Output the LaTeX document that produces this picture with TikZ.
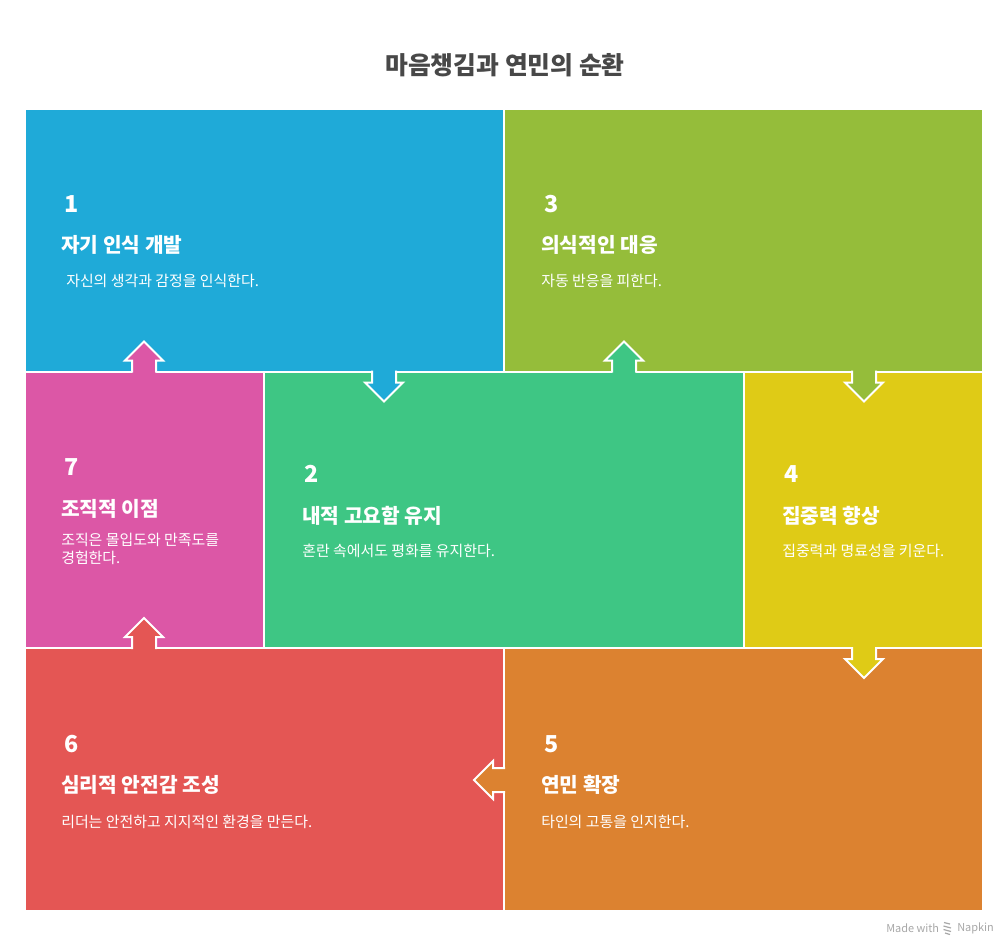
\documentclass[tikz,border=0pt]{standalone}
\usepackage{fontspec}
\setmainfont{Noto Sans CJK KR}
\usetikzlibrary{calc}
\definecolor{cBlue}{HTML}{1FAAD8}
\definecolor{cOlive}{HTML}{95BD3A}
\definecolor{cPink}{HTML}{DC57A6}
\definecolor{cGreen}{HTML}{3EC684}
\definecolor{cYellow}{HTML}{DFCB16}
\definecolor{cRed}{HTML}{E45654}
\definecolor{cOrange}{HTML}{DC8230}
\definecolor{cTitle}{HTML}{484848}
\definecolor{cMark}{HTML}{A8A8A8}
\newcommand\ArrUp[3]{%
  \fill[#3] (#1-12,#2+3) -- (#1-12,#2-11) -- (#1-19,#2-11) -- (#1,#2-30) -- (#1+19,#2-11) -- (#1+12,#2-11) -- (#1+12,#2+3) -- cycle;
  \draw[arrline] (#1-12,#2+1) -- (#1-12,#2-11) -- (#1-19,#2-11) -- (#1,#2-30) -- (#1+19,#2-11) -- (#1+12,#2-11) -- (#1+12,#2+1);}
\newcommand\ArrDown[3]{%
  \fill[#3] (#1-12,#2-3) -- (#1-12,#2+11) -- (#1-19,#2+11) -- (#1,#2+30) -- (#1+19,#2+11) -- (#1+12,#2+11) -- (#1+12,#2-3) -- cycle;
  \draw[arrline] (#1-12,#2-1) -- (#1-12,#2+11) -- (#1-19,#2+11) -- (#1,#2+30) -- (#1+19,#2+11) -- (#1+12,#2+11) -- (#1+12,#2-1);}
\newcommand\ArrLeft[3]{%
  \fill[#3] (#1+3,#2-12) -- (#1-11,#2-12) -- (#1-11,#2-19) -- (#1-30,#2) -- (#1-11,#2+19) -- (#1-11,#2+12) -- (#1+3,#2+12) -- cycle;
  \draw[arrline] (#1+1,#2-12) -- (#1-11,#2-12) -- (#1-11,#2-19) -- (#1-30,#2) -- (#1-11,#2+19) -- (#1-11,#2+12) -- (#1+1,#2+12);}
\begin{document}
\begin{tikzpicture}[x=0.75pt,y=-0.75pt,
  blk/.style={draw=white, line width=1.5pt},
  arrline/.style={draw=white, line width=1.5pt, line join=miter},
  num/.style={anchor=west, inner sep=0pt, text=white, font=\fontsize{17.5}{19}\selectfont\bfseries},
  head/.style={anchor=west, inner sep=0pt, text=white, font=\fontsize{15.2}{17}\selectfont\bfseries},
  desc/.style={anchor=west, inner sep=0pt, text=white, align=left, font=\fontsize{11.2}{13.5}\selectfont},
  wmark/.style={inner sep=0pt, text=cMark, font=\fontsize{8.2}{9}\selectfont}]
\useasboundingbox (0,0) rectangle (1008,947);
\fill[white] (0,0) rectangle (1008,947);
\node[inner sep=0pt, text=cTitle, font=\fontsize{18.6}{20}\selectfont\bfseries] (title) at (505,65) {마음챙김과 연민의 순환};
% blocks
\filldraw[blk, fill=cBlue]   (25,109) rectangle (504,371.5);
\filldraw[blk, fill=cOlive]  (504,109) rectangle (983,371.5);
\filldraw[blk, fill=cPink]   (25,371.5) rectangle (264,648);
\filldraw[blk, fill=cGreen]  (264,371.5) rectangle (744,648);
\filldraw[blk, fill=cYellow] (744,371.5) rectangle (983,648);
\filldraw[blk, fill=cRed]    (25,648) rectangle (504,911);
\filldraw[blk, fill=cOrange] (504,648) rectangle (983,911);
% arrows
\ArrUp{144}{371.5}{cPink}
\ArrDown{384}{371.5}{cBlue}
\ArrUp{624}{371.5}{cGreen}
\ArrDown{864}{371.5}{cOlive}
\ArrDown{864}{648}{cYellow}
\ArrLeft{504}{780}{cOrange}
\ArrUp{144}{648}{cRed}
% texts
\node[num] (n1) at (64,204) {1};
\node[head] (h1) at (61,245) {자기 인식 개발};
\node[desc] (d1) at (66,281) {자신의 생각과 감정을 인식한다.};
\node[num] (n3) at (544,204) {3};
\node[head] (h3) at (541,245) {의식적인 대응};
\node[desc] (d3) at (541,281) {자동 반응을 피한다.};
\node[num] (n7) at (64,467) {7};
\node[head] (h7) at (61,509) {조직적 이점};
\node[desc, anchor=north west] (d7) at (61,533) {조직은 몰입도와 만족도를\\경험한다.};
\node[num] (n2) at (304,474) {2};
\node[head] (h2) at (302,516) {내적 고요함 유지};
\node[desc] (d2) at (302,551) {혼란 속에서도 평화를 유지한다.};
\node[num] (n4) at (784,474) {4};
\node[head] (h4) at (782,516) {집중력 향상};
\node[desc] (d4) at (782,551) {집중력과 명료성을 키운다.};
\node[num] (n6) at (64,744) {6};
\node[head] (h6) at (61,785) {심리적 안전감 조성};
\node[desc] (d6) at (61,822) {리더는 안전하고 지지적인 환경을 만든다.};
\node[num] (n5) at (544,744) {5};
\node[head] (h5) at (541,785) {연민 확장};
\node[desc] (d5) at (541,822) {타인의 고통을 인지한다.};
% watermark
\node[wmark, anchor=west] (mk1) at (886,928) {Made with};
\node[wmark, anchor=west] (mk2) at (957,928) {Napkin};
\draw[cMark, line width=0.9pt] (944,922.5) -- (950,924) (943.5,926) -- (951,928) (943.5,929.5) -- (951,931.5) (945,933) -- (950,934.5);
\end{tikzpicture}
\end{document}
